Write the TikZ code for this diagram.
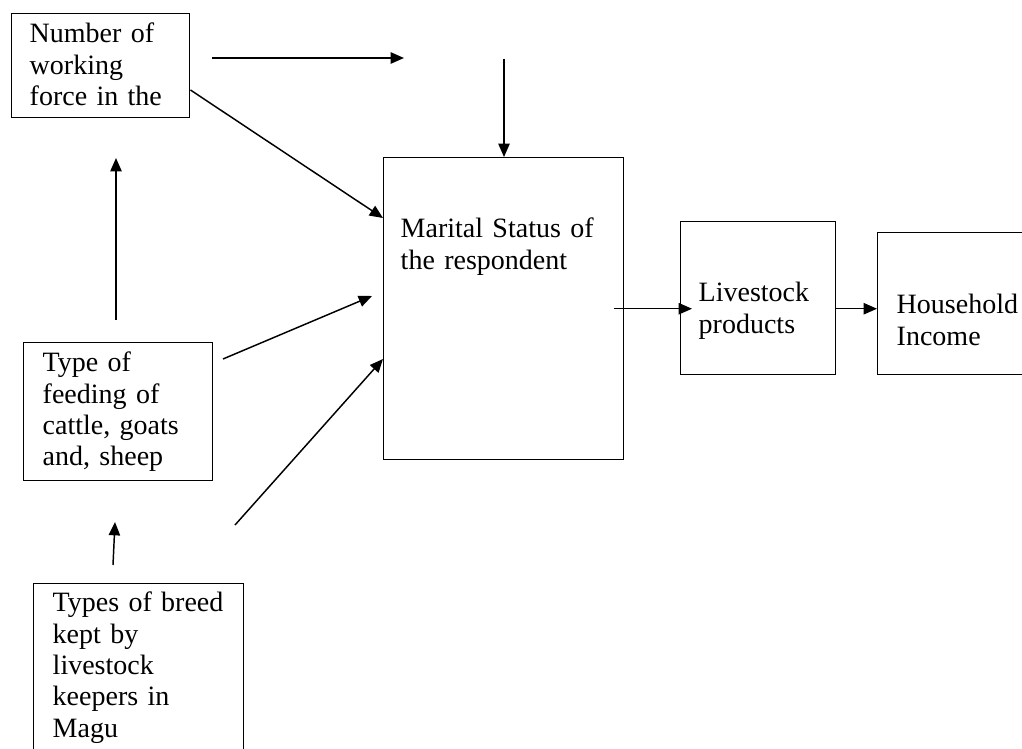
\documentclass[tikz,border=0pt]{standalone}
\usepackage{fontspec}
\setmainfont{Liberation Serif}
\usetikzlibrary{arrows.meta, calc}

\begin{document}
\begin{tikzpicture}[x=0.75pt, y=-0.75pt,
        factor/.style={draw, rectangle, line width=1.1pt, anchor=north west, align=left, inner ysep=0pt, font=\fontsize{21}{23.5}\selectfont},
        conn/.style={line width=1.1pt, -{Triangle[length=10pt, width=8.5pt]}}]
        \useasboundingbox (0,0) rectangle (1022,749);
        \clip (0,0) rectangle (1022,749);

        \node[factor, inner xsep=13.5pt, text width=106.5pt, text height=21.75pt, text depth=56.25pt] (work) at (11,13) {Number of\\working\\force in the};

        \node[factor, inner xsep=14.25pt, text width=113.25pt, text height=21.75pt, text depth=81.75pt] (feed) at (23,342) {Type of\\feeding of\\cattle, goats\\and, sheep};

        \node[factor, inner xsep=14.25pt, text width=129pt, text height=21pt, text depth=134.25pt] (breed) at (33,583) {Types of breed\\kept by\\livestock\\keepers in\\Magu};

        \node[factor, inner xsep=12.75pt, text width=154.5pt, text height=60pt, text depth=166.5pt] (marital) at (383,157) {Marital Status of\\the respondent};

        \node[factor, inner xsep=13.5pt, text width=89.25pt, text height=60pt, text depth=54.75pt] (products) at (680,221) {Livestock\\products};

        \node[factor, inner xsep=14.25pt, text width=99pt, text height=60.75pt, text depth=45.75pt] (income) at (877,232) {Household\\Income};

        % loose arrow ends
        \coordinate (top1) at (212,58);
        \coordinate (top2) at (404,58);
        \coordinate (down1) at (504,59);
        \coordinate (up1) at (116,320);
        \coordinate (up2) at (116,158);
        \coordinate (feed1) at (223,359);
        \coordinate (feed2) at (372,296);
        \coordinate (breed1) at (235,525);
        \coordinate (low1) at (113,565);
        \coordinate (low2) at (115,522);

        \draw[conn] (top1) -- (top2);
        \draw[conn] (down1) -- (down1 |- marital.north);
        \draw[conn] (work.east |- 0,90) -- (marital.west |- 0,218);
        \draw[conn] (up1) -- (up2);
        \draw[conn] (feed1) -- (feed2);
        \draw[conn] (breed1) -- (marital.west |- 0,359);
        \draw[conn] (low1) -- (low2);
        \draw[conn, shorten <=-7.5pt, shorten >=-9pt] (marital.east) -- (marital.east -| products.west);
        \draw[conn] (products.east |- marital.east) -- (income.west |- marital.east);
    \end{tikzpicture}
\end{document}
